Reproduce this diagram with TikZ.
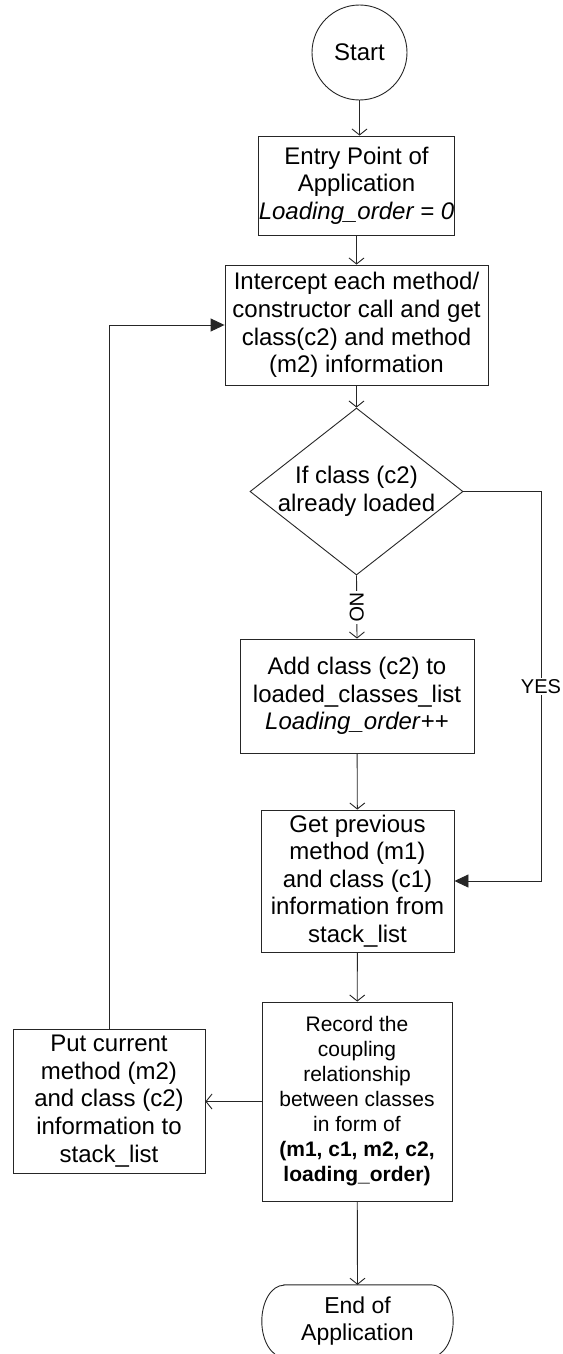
\documentclass[tikz,border=0pt]{standalone}
\usepackage{fontspec}
\setmainfont{Liberation Sans}
\usetikzlibrary{arrows.meta,shapes.geometric}
\tikzset{
  ln/.style={draw=black!85, line width=0.9pt},
  box/.style={ln, rectangle, inner sep=0pt, align=center, font=\fontsize{24}{27.6}\selectfont},
  txt/.style={inner sep=0pt, align=center, font=\fontsize{24}{27.6}\selectfont},
  lbl/.style={fill=white, inner sep=1.5pt, font=\fontsize{20}{23}\selectfont},
  flow/.style={ln, -{Straight Barb[length=6pt,width=15pt,line width=0.9pt]}},
  fflow/.style={ln, -{Triangle[length=14pt,width=13pt]}},
}
\begin{document}
\begin{tikzpicture}[x=1pt,y=-1pt]
\useasboundingbox (0,0) rectangle (562,1354);
\clip (0,0) rectangle (562,1354);
\fill[white] (0,0) rectangle (562,1354);

\node[circle, ln, minimum size=95pt, inner sep=0pt, font=\fontsize{24}{27.6}\selectfont] (start) at (359.5,52.5) {Start};
\node[box, minimum width=158pt, minimum height=99pt] (entry) at (356.5,185.5) {Entry Point of\\Application\\\textit{Loading\_order = 0}};
\node[box, minimum width=263pt, minimum height=120pt] (intercept) at (356.5,325) {Intercept each method/\\constructor call and get\\class(c2) and method\\(m2) information};
\node[diamond, ln, minimum width=213pt, minimum height=167pt, inner sep=0pt] (dec) at (356.5,491.5) {};
\node[txt] (dectext) at (dec.center) {If class (c2)\\already loaded};
\node[box, minimum width=234pt, minimum height=114pt] (add) at (357,696) {Add class (c2) to\\loaded\_classes\_list\\\textit{Loading\_order}++};
\node[box, minimum width=193pt, minimum height=142pt] (prev) at (357.5,881) {Get previous\\method (m1)\\and class (c1)\\information from\\stack\_list};
\node[box, minimum width=190pt, minimum height=199pt, font=\fontsize{21}{25}\selectfont] (rec) at (357,1101.5) {Record the\\coupling\\relationship\\between classes\\in form of\\\textbf{(m1, c1, m2, c2,}\\\textbf{loading\_order)}};
\node[box, minimum width=192pt, minimum height=144pt] (put) at (109,1101) {Put current\\method (m2)\\and class (c2)\\information to\\stack\_list};
\node[txt, minimum width=191pt, minimum height=72pt, font=\fontsize{23}{27}\selectfont] (end) at (357.5,1321) {End of\\Application};
\draw[ln] ([xshift=22pt]end.north west) -- ([xshift=-22pt]end.north east)
  arc[start angle=90, end angle=-90, x radius=22pt, y radius=36pt]
  -- ([xshift=22pt]end.south west)
  arc[start angle=270, end angle=90, x radius=22pt, y radius=36pt] -- cycle;

\coordinate (yesx) at (541,0);

\draw[flow] (start.south) -- (start.south |- entry.north);
\draw[flow] (entry) -- (intercept);
\draw[flow] (intercept.south) -- (dec.north);
\draw[flow] (dec.south) -- node[lbl, rotate=-90] (no) {NO} (add.north);
\draw[flow] (add) -- (prev);
\draw[flow] (prev) -- (rec);
\draw[flow] (rec) -- (end.north);
\draw[fflow] (dec.east) -- (dec.east -| yesx) -- node[lbl] (yes) {YES} (prev.east -| yesx) -- (prev.east);
\draw[flow] (rec.west) -- (rec.west -| put.east);
\draw[fflow] (put.north) -- (put.north |- intercept.west) -- (intercept.west);
\end{tikzpicture}
\end{document}
